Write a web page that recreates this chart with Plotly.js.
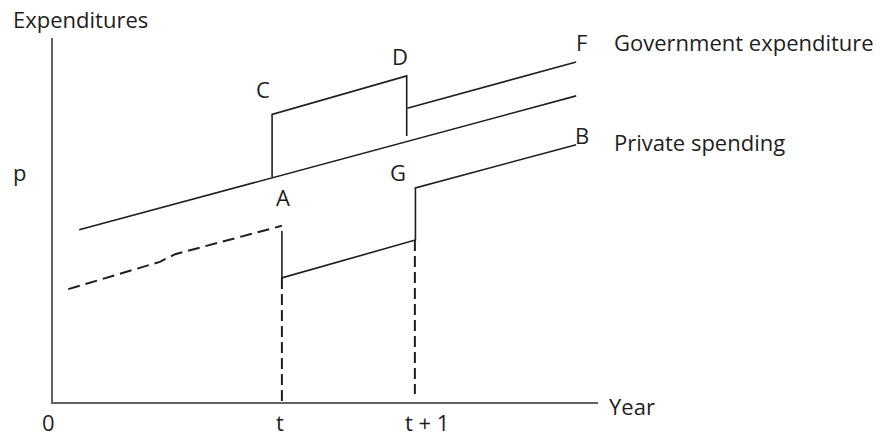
<!DOCTYPE html>
<html>
<head>
<meta charset="utf-8">
<script src="https://cdn.plot.ly/plotly-3.0.1.min.js"></script>
<style>
  html, body { margin: 0; padding: 0; background: #ffffff; }
  #chart { width: 880px; height: 437px; }
</style>
</head>
<body>
<div id="chart"></div>
<script>
// x runs along the time axis (0 = origin, 100 = end of axis), y is the spending level (0-100)
const totalX = [4.8, 96.0];
const totalY = [47.3, 84.1];
const govJumpX = [40.2, 40.2, 64.9, 64.9];
const govJumpY = [61.8, 79.0, 89.6, 73.1];
const govAfterX = [65.0, 96.0];
const govAfterY = [80.7, 93.4];
const privPrevX = [2.8, 19.6, 22.4, 42.0];
const privPrevY = [31.0, 38.5, 40.6, 48.4];
const privX = [42.0, 42.0, 66.5, 66.5, 96.0];
const privY = [47.0, 34.1, 44.5, 58.8, 70.7];
const dropX = [42.0, 42.0];
const dropY = [34.1, 0];
const riseX = [66.4, 66.4];
const riseY = [44.5, 2.2];

// text labels and where they sit (same units as the data)
const pointLabels = ["C", "D", "A", "G", "F", "B"];
const pointLabelX = [38.5, 63.7, 42.2, 63.3, 96.9, 97.1];
const pointLabelY = [86.0, 95.0, 56.3, 63.2, 98.9, 73.4];
const tickLabels = ["0", "t", "t + 1"];
const tickLabelX = [-0.8, 41.7, 68.7];
const seriesLabels = ["Government expenditure", "Private spending"];
const seriesLabelY = [98.9, 71.4];

const INK = "#1e1e1e";
const FONT = { family: "Open Sans, sans-serif", size: 22, color: INK };

function lineTrace(x, y, dash) {
  return {
    x: x,
    y: y,
    type: "scatter",
    mode: "lines",
    line: { color: INK, width: dash ? 2 : 1.6, dash: dash || "solid" },
    hoverinfo: "skip",
    showlegend: false,
    cliponaxis: false,
  };
}

const traces = [
  lineTrace(totalX, totalY),
  lineTrace(govJumpX, govJumpY),
  lineTrace(govAfterX, govAfterY),
  lineTrace(privPrevX, privPrevY, "12px,6px"),
  lineTrace(privX, privY),
  lineTrace(dropX, dropY, "11px,5px"),
  lineTrace(riseX, riseY, "11px,5px"),
];

// annotations use paper coords: axes run 0-100, so paper = value / 100
function label(text, x, y, xanchor) {
  return {
    text: text,
    xref: "paper",
    yref: "paper",
    x: x / 100,
    y: y / 100,
    xanchor: xanchor || "center",
    yanchor: "middle",
    showarrow: false,
    borderpad: 0,
    font: FONT,
  };
}

const annotations = [];
pointLabels.forEach((t, i) => annotations.push(label(t, pointLabelX[i], pointLabelY[i])));
tickLabels.forEach((t, i) => annotations.push(label(t, tickLabelX[i], -5.4)));
seriesLabels.forEach((t, i) => annotations.push(label(t, 102.75, seriesLabelY[i], "left")));
annotations.push(label("Expenditures", -7.5, 105.2, "left"));
annotations.push(label("p", -6.1, 63.2));
annotations.push(label("Year", 101.8, -1.2, "left"));

const axisStyle = {
  range: [0, 100],
  showline: true,
  linecolor: "#636363",
  linewidth: 2,
  showgrid: false,
  zeroline: false,
  showticklabels: false,
  ticks: "",
  fixedrange: true,
};

const layout = {
  width: 880,
  height: 437,
  margin: { l: 53, r: 282, t: 38, b: 35 },
  paper_bgcolor: "#ffffff",
  plot_bgcolor: "#ffffff",
  xaxis: axisStyle,
  yaxis: axisStyle,
  annotations: annotations,
  showlegend: false,
};

Plotly.newPlot("chart", traces, layout, { displayModeBar: false, staticPlot: true });
</script>
</body>
</html>
